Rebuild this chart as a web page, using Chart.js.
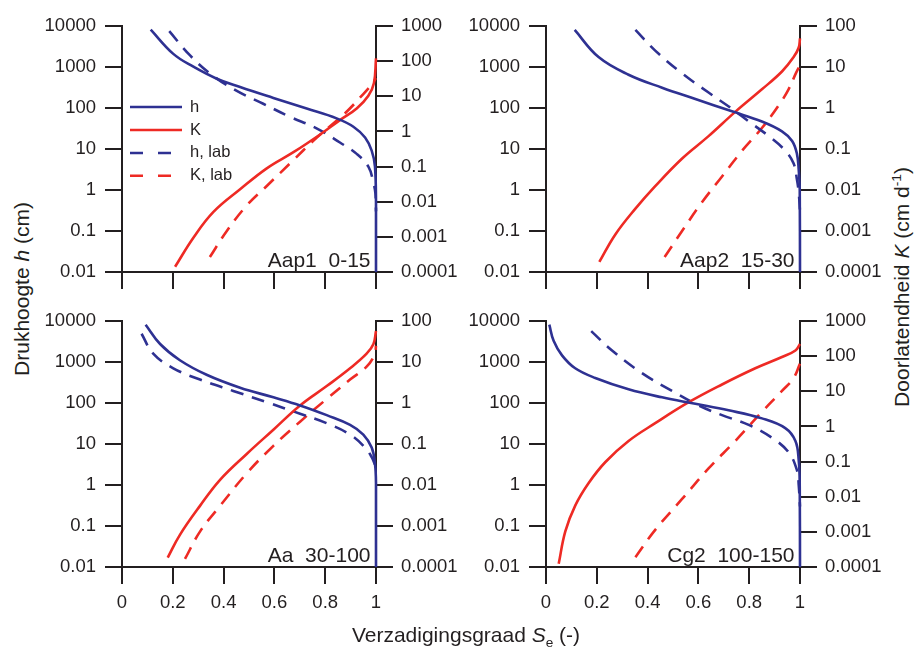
<!DOCTYPE html>
<html>
<head>
<meta charset="utf-8">
<script src="https://cdn.jsdelivr.net/npm/chart.js@4.4.1/dist/chart.umd.min.js"></script>
<style>
  body { margin: 0; background: #fff; }
  #wrap { position: relative; width: 915px; height: 650px; font-family: 'Liberation Sans', Arial, sans-serif; color: #231f20; }
  canvas { position: absolute; }
  .title { position: absolute; font-size: 21px; line-height: 1; white-space: nowrap; }
  .rot { transform: translate(-50%, -50%) rotate(-90deg); }
  sup, sub { font-size: 0.65em; line-height: 0; }
</style>
</head>
<body>
<div id="wrap">
  <canvas id="c1" width="422" height="286" style="left:42px;top:6px"></canvas>
  <canvas id="c2" width="422" height="286" style="left:466px;top:6px"></canvas>
  <canvas id="c3" width="422" height="326" style="left:42px;top:301px"></canvas>
  <canvas id="c4" width="422" height="326" style="left:466px;top:301px"></canvas>
  <div class="title rot" style="left:21px;top:289px">Drukhoogte <i>h</i> (cm)</div>
  <div class="title rot" style="left:901px;top:287px">Doorlatendheid <i>K</i> (cm d<sup>-1</sup>)</div>
  <div class="title" style="left:466px;top:624px;transform:translateX(-50%)">Verzadigingsgraad <i>S</i><sub>e</sub> (-)</div>
</div>
<script>
// tick labels
const seTicks = [0, 0.2, 0.4, 0.6, 0.8, 1];
const hTicks = [0.01, 0.1, 1, 10, 100, 1000, 10000];
const kTicks1000 = [0.0001, 0.001, 0.01, 0.1, 1, 10, 100, 1000];
const kTicks100 = [0.0001, 0.001, 0.01, 0.1, 1, 10, 100];
const legendLabels = ['h', 'K', 'h, lab', 'K, lab'];
const panelLabels = ['Aap1  0-15', 'Aap2  15-30', 'Aa  30-100', 'Cg2  100-150'];

// curves as [Se, value]; h in cm, K in cm/d
const aap1H = [[0.113, 8200], [0.202, 2100], [0.281, 1020], [0.373, 520], [0.465, 325], [0.596, 176], [0.727, 97], [0.845, 56], [0.911, 35], [0.957, 19], [0.983, 9.1], [0.996, 3.7], [1.0, 0.5], [1.0, 0.01]];
const aap1K = [[0.209, 1.4e-4], [0.281, 9.4e-4], [0.36, 5.1e-3], [0.465, 0.0225], [0.57, 0.089], [0.675, 0.256], [0.78, 0.82], [0.858, 2.1], [0.924, 4.5], [0.97, 10.4], [0.992, 24], [1.0, 120]];
const aap1HLab = [[0.186, 7500], [0.268, 1920], [0.353, 650], [0.452, 261], [0.556, 127], [0.661, 61], [0.766, 32], [0.858, 14.4], [0.924, 7.6], [0.97, 3.7], [0.99, 1.5], [0.998, 0.8], [1.0, 0.3]];
const aap1KLab = [[0.346, 2.65e-4], [0.412, 1.44e-3], [0.491, 7.8e-3], [0.57, 0.028], [0.661, 0.122], [0.766, 0.66], [0.877, 3.25], [0.95, 11.6], [0.983, 21.8], [1.0, 33]];

const aap2H = [[0.113, 8050], [0.207, 1750], [0.325, 650], [0.457, 313], [0.588, 166], [0.732, 83], [0.85, 47], [0.929, 27], [0.969, 15.7], [0.988, 7.6], [0.995, 3.1], [0.999, 1.0], [1.0, 0.01]];
const aap2K = [[0.21, 1.75e-4], [0.273, 8.2e-4], [0.352, 3.5e-3], [0.43, 0.0124], [0.535, 0.058], [0.64, 0.206], [0.745, 0.805], [0.85, 2.86], [0.929, 7.8], [0.975, 17.5], [0.995, 30], [1.0, 50]];
const aap2HLab = [[0.352, 8050], [0.43, 2520], [0.535, 707], [0.64, 239], [0.732, 96], [0.798, 47], [0.877, 20.6], [0.942, 9.1], [0.975, 4.4], [0.988, 1.8], [0.995, 0.86], [1.0, 0.3]];
const aap2KLab = [[0.467, 2.3e-4], [0.535, 9.8e-4], [0.614, 5.0e-3], [0.693, 0.0214], [0.772, 0.091], [0.85, 0.325], [0.916, 1.16], [0.955, 2.86], [0.984, 7.1], [1.0, 11]];

const aaH = [[0.093, 8190], [0.15, 2760], [0.228, 1110], [0.333, 491], [0.465, 237], [0.596, 138], [0.701, 87.5], [0.806, 50.7], [0.898, 29.4], [0.95, 17], [0.983, 8.2], [0.996, 3.3], [1.0, 1.1], [1.0, 0.01]];
const aaK = [[0.18, 1.7e-4], [0.228, 6.1e-4], [0.307, 3.1e-3], [0.386, 0.0134], [0.491, 0.0574], [0.596, 0.224], [0.701, 0.875], [0.806, 2.6], [0.898, 7.06], [0.963, 16], [0.99, 27.5], [1.0, 57]];
const aaHLab = [[0.077, 4920], [0.123, 1600], [0.202, 706], [0.307, 374], [0.438, 198], [0.57, 105], [0.701, 55], [0.806, 32.2], [0.898, 17], [0.957, 8.2], [0.983, 4.8], [0.997, 3]];
const aaKLab = [[0.248, 1.57e-4], [0.307, 7.3e-4], [0.386, 3.1e-3], [0.491, 0.0193], [0.596, 0.0904], [0.701, 0.352], [0.806, 1.26], [0.898, 3.74], [0.963, 7.73], [0.996, 16], [1.0, 25]];

const cg2H = [[0.013, 8190], [0.03, 3300], [0.063, 1460], [0.115, 706], [0.194, 410], [0.325, 217], [0.457, 138], [0.588, 96], [0.719, 66.5], [0.85, 42.3], [0.942, 24.5], [0.982, 11.9], [0.995, 4], [0.999, 0.93], [1.0, 0.01]];
const cg2K = [[0.05, 1.23e-4], [0.076, 1.03e-3], [0.115, 5.6e-3], [0.168, 0.0246], [0.234, 0.0975], [0.325, 0.386], [0.43, 1.24], [0.562, 4.9], [0.693, 15.7], [0.824, 45.4], [0.929, 95], [0.982, 146], [1.0, 222]];
const cg2HLab = [[0.178, 5700], [0.26, 1910], [0.378, 537], [0.496, 198], [0.601, 87.5], [0.693, 50.7], [0.798, 29.4], [0.89, 14.2], [0.955, 6.3], [0.988, 2.3], [0.995, 1.0], [1.0, 0.3]];
const cg2KLab = [[0.352, 1.9e-4], [0.43, 1.14e-3], [0.535, 8.5e-3], [0.64, 0.0638], [0.745, 0.386], [0.85, 2.6], [0.929, 10.3], [0.975, 24], [1.0, 62]];

const BLUE = '#2e3192';
const RED = '#ee2a24';
const INK = '#231f20';
const FONT = "'Liberation Sans', Arial, sans-serif";
const DASH = [13, 9];

Chart.defaults.font.family = FONT;
Chart.defaults.color = INK;

// panel name in the corner, and the legend for the first panel
const panelText = {
  id: 'panelText',
  afterDatasetsDraw(chart, args, opts) {
    const { ctx, chartArea } = chart;
    ctx.save();
    ctx.fillStyle = INK;
    ctx.font = '21px ' + FONT;
    ctx.textAlign = 'right';
    ctx.textBaseline = 'alphabetic';
    ctx.fillText(opts.label, chartArea.right - 5.5, chartArea.bottom - 5);
    if (opts.legend) {
      ctx.font = '16.5px ' + FONT;
      ctx.textAlign = 'left';
      ctx.textBaseline = 'middle';
      chart.data.datasets.forEach((ds, i) => {
        const y = chartArea.top + 81 + i * 22.9;
        const x0 = chartArea.left + 8;
        ctx.strokeStyle = ds.borderColor;
        ctx.lineWidth = 2.5;
        ctx.setLineDash(ds.borderDash.length ? [13, 15] : []);
        ctx.beginPath();
        ctx.moveTo(x0, y);
        ctx.lineTo(x0 + (ds.borderDash.length ? 42 : 52), y);
        ctx.stroke();
        ctx.fillText(legendLabels[i], x0 + 60, y);
      });
      ctx.setLineDash([]);
    }
    ctx.restore();
  }
};

function pts(arr) {
  return arr.map(p => ({ x: p[0], y: p[1] }));
}

function line(arr, color, dashed, axis) {
  return {
    data: pts(arr),
    yAxisID: axis,
    borderColor: color,
    borderWidth: 2.6,
    borderDash: dashed ? DASH : [],
    pointRadius: 0,
    tension: 0.4,
    clip: 3
  };
}

function axisGrid() {
  return { drawOnChartArea: false, color: INK, lineWidth: 2, tickLength: 17 };
}

function makePanel(id, label, curves, kTicks, bottomRow, legend) {
  new Chart(document.getElementById(id), {
    type: 'line',
    data: {
      datasets: [
        line(curves[0], BLUE, false, 'y'),
        line(curves[1], RED, false, 'y2'),
        line(curves[2], BLUE, true, 'y'),
        line(curves[3], RED, true, 'y2')
      ]
    },
    options: {
      responsive: false,
      animation: false,
      events: [],
      layout: { padding: { top: 12, left: 0, right: 0, bottom: 0 } },
      plugins: {
        legend: { display: false },
        tooltip: { enabled: false },
        panelText: { label: label, legend: legend }
      },
      scales: {
        x: {
          type: 'linear', position: 'bottom', min: 0, max: 1,
          afterBuildTicks: s => { s.ticks = seTicks.map(v => ({ value: v })); },
          afterFit: s => { s.height = bottomRow ? 60 : 20; },
          grid: axisGrid(),
          border: { color: INK, width: 2 },
          ticks: { display: bottomRow, autoSkip: false, maxRotation: 0, padding: 8, font: { size: 18.5 }, callback: v => String(v) }
        },
        y: {
          type: 'logarithmic', position: 'left', min: 0.01, max: 10000,
          afterBuildTicks: s => { s.ticks = hTicks.map(v => ({ value: v })); },
          afterFit: s => { s.width = 80; },
          grid: axisGrid(),
          border: { color: INK, width: 2 },
          ticks: { autoSkip: false, padding: 9, font: { size: 18.5 }, callback: v => String(v) }
        },
        y2: {
          type: 'logarithmic', position: 'right', min: kTicks[0], max: kTicks[kTicks.length - 1],
          afterBuildTicks: s => { s.ticks = kTicks.map(v => ({ value: v })); },
          afterFit: s => { s.width = 88; },
          grid: axisGrid(),
          border: { color: INK, width: 2 },
          ticks: { autoSkip: false, padding: 8, font: { size: 18.5 }, callback: v => String(v) }
        }
      }
    },
    plugins: [panelText]
  });
}

makePanel('c1', panelLabels[0], [aap1H, aap1K, aap1HLab, aap1KLab], kTicks1000, false, true);
makePanel('c2', panelLabels[1], [aap2H, aap2K, aap2HLab, aap2KLab], kTicks100, false, false);
makePanel('c3', panelLabels[2], [aaH, aaK, aaHLab, aaKLab], kTicks100, true, false);
makePanel('c4', panelLabels[3], [cg2H, cg2K, cg2HLab, cg2KLab], kTicks1000, true, false);
</script>
</body>
</html>
